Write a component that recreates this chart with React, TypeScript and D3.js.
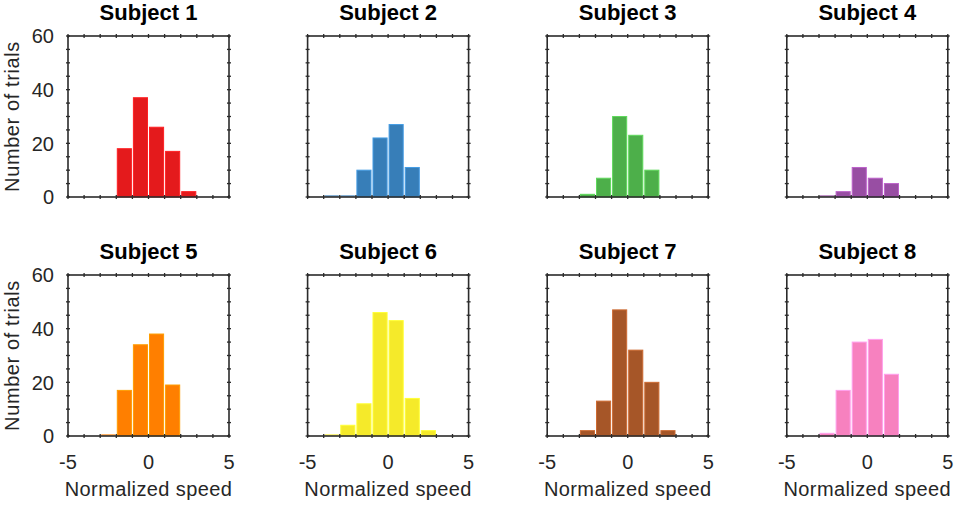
import React from "react";
import * as d3 from "d3";

// histogram counts per subject, one bin per unit of normalized speed
const subjects = ["Subject 1", "Subject 2", "Subject 3", "Subject 4", "Subject 5", "Subject 6", "Subject 7", "Subject 8"];
const colors = ["#E41A1C", "#377EB8", "#4DAF4A", "#984EA3", "#FF7F00", "#F5EA2A", "#A65628", "#F781BF"];
const firstBin = [-2, -4, -3, -3, -3, -4, -3, -3];
const counts1 = [18, 37, 26, 17, 2];
const counts2 = [0, 0, 10, 22, 27, 11];
const counts3 = [1, 7, 30, 23, 10];
const counts4 = [0, 2, 11, 7, 5];
const counts5 = [0, 17, 34, 38, 19];
const counts6 = [0, 4, 12, 46, 43, 14, 2];
const counts7 = [2, 13, 47, 32, 20, 2];
const counts8 = [1, 17, 35, 36, 23];
const counts = [counts1, counts2, counts3, counts4, counts5, counts6, counts7, counts8];

const xTicks = [-5, 0, 5];
const yTicks = [0, 20, 40, 60];

const W = 956;
const H = 505;
const font = "'Liberation Sans', Arial, Helvetica, sans-serif";

function Panel({ i }: { i: number }) {
  const col = i % 4;
  const row = Math.floor(i / 4);
  const left = 68 + col * 239.6;
  const top = 36 + row * 239;
  const size = 161;

  const x = d3.scaleLinear().domain([-5, 5]).range([left, left + size]);
  const y = d3.scaleLinear().domain([0, 60]).range([top + size, top]);

  const bins = counts[i].map((c, k) => ({ x0: firstBin[i] + k, x1: firstBin[i] + k + 1, c }));
  const color = colors[i];
  const edge = d3.color(color)!.brighter(0.6).formatHex();

  const minorX = d3.range(-5, 5.01, 1);
  const minorY = d3.range(0, 60.01, 5);
  const tk = 2;

  return (
    <g>
      <text
        x={left + size / 2}
        y={top - 16}
        textAnchor="middle"
        fontFamily={font}
        fontWeight="bold"
        fontSize={22}
        fill="#000"
      >
        {subjects[i]}
      </text>

      {bins.map((b, k) =>
        b.c > 0 ? (
          <rect
            key={k}
            x={x(b.x0) + 1}
            y={y(b.c)}
            width={x(b.x1) - x(b.x0) - 2}
            height={y(0) - y(b.c)}
            fill={color}
            stroke={edge}
            strokeWidth={1}
          />
        ) : (
          <line key={k} x1={x(b.x0) + 1} x2={x(b.x1) - 1} y1={y(0) - 1} y2={y(0) - 1} stroke={color} strokeWidth={1.2} />
        )
      )}

      <rect x={left} y={top} width={size} height={size} fill="none" stroke="#2b2b2b" strokeWidth={1.6} />

      {minorX.map((v) => (
        <g key={"x" + v} stroke="#2b2b2b" strokeWidth={1.3}>
          <line x1={x(v)} x2={x(v)} y1={top - tk} y2={top + tk} />
          <line x1={x(v)} x2={x(v)} y1={top + size - tk} y2={top + size + tk} />
        </g>
      ))}
      {minorY.map((v) => (
        <g key={"y" + v} stroke="#2b2b2b" strokeWidth={1.3}>
          <line x1={left - tk} x2={left + tk} y1={y(v)} y2={y(v)} />
          <line x1={left + size - tk} x2={left + size + tk} y1={y(v)} y2={y(v)} />
        </g>
      ))}

      {col === 0 &&
        yTicks.map((v) => (
          <text
            key={"yl" + v}
            x={left - 14}
            y={y(v)}
            dy="0.36em"
            textAnchor="end"
            fontFamily={font}
            fontSize={20}
            fill="#262626"
          >
            {v}
          </text>
        ))}
      {col === 0 && (
        <text
          transform={`translate(${left - 49},${top + size / 2}) rotate(-90)`}
          textAnchor="middle"
          fontFamily={font}
          fontSize={20}
          letterSpacing={0.6}
          fill="#262626"
        >
          Number of trials
        </text>
      )}

      {row === 1 &&
        xTicks.map((v) => (
          <text
            key={"xl" + v}
            x={x(v)}
            y={top + size + 33}
            textAnchor="middle"
            fontFamily={font}
            fontSize={20}
            fill="#262626"
          >
            {v}
          </text>
        ))}
      {row === 1 && (
        <text
          x={left + size / 2}
          y={top + size + 60}
          textAnchor="middle"
          fontFamily={font}
          fontSize={20}
          letterSpacing={0.4}
          fill="#262626"
        >
          Normalized speed
        </text>
      )}
    </g>
  );
}

export default function App() {
  return (
    <svg
      width={W}
      height={H}
      style={{ position: "absolute", left: 0, top: 0, background: "#fff" }}
    >
      <rect width={W} height={H} fill="#fff" />
      {subjects.map((_, i) => (
        <Panel key={i} i={i} />
      ))}
    </svg>
  );
}
